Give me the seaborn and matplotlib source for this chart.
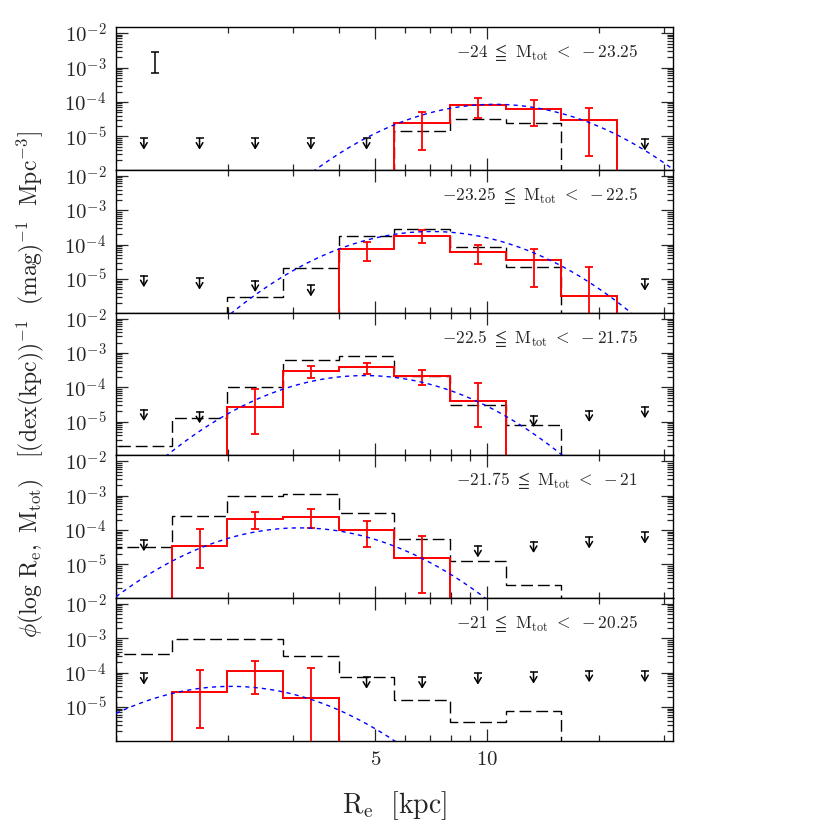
import numpy as np
import matplotlib
matplotlib.use("Agg")
import matplotlib.pyplot as plt
from matplotlib.ticker import FixedLocator, FuncFormatter, LogLocator, NullFormatter
import seaborn as sns

# ---------------------------------------------------------------
# data (phi values kept as log10)
# ---------------------------------------------------------------
# bins in log10(Re / kpc)
LOG_RE_EDGES = [0.0, 0.15, 0.30, 0.45, 0.60, 0.75, 0.90, 1.05, 1.20, 1.35, 1.50]

# one panel per magnitude bin
MAG_BRIGHT = [-24, -23.25, -22.5, -21.75, -21]
MAG_FAINT = [-23.25, -22.5, -21.75, -21, -20.25]

# red (solid) histogram : first bin index + values
RED_START = [5, 4, 2, 1, 1]
RED_LOGPHI = [
    [-4.60, -4.10, -4.20, -4.52],
    [-4.14, -3.75, -4.21, -4.45, -5.49],
    [-4.56, -3.52, -3.42, -3.66, -4.41],
    [-4.47, -3.67, -3.61, -4.00, -4.81],
    [-4.55, -3.96, -4.73],
]
# error bar ends (-7 = runs off the bottom of the panel)
RED_ERR_LO = [
    [-5.40, -4.48, -4.69, -5.57],
    [-4.48, -3.94, -4.56, -5.24, -7.0],
    [-5.35, -3.74, -3.60, -3.92, -5.17],
    [-5.12, -3.98, -3.95, -4.51, -5.82],
    [-5.60, -4.63, -7.0],
]
RED_ERR_HI = [
    [-4.28, -3.88, -3.95, -4.19],
    [-3.93, -3.59, -4.01, -4.13, -4.64],
    [-4.04, -3.39, -3.29, -3.49, -3.87],
    [-3.98, -3.47, -3.40, -3.75, -4.18],
    [-3.91, -3.66, -3.88],
]

# black (dashed) histogram
BLACK_START = [5, 2, 0, 0, 0]
BLACK_LOGPHI = [
    [-4.85, -4.49, -4.62],
    [-5.52, -4.67, -3.75, -3.56, -4.06, -4.64],
    [-5.72, -4.89, -3.99, -3.22, -3.10, -3.67, -4.51, -5.09],
    [-4.49, -3.59, -3.01, -2.96, -3.50, -4.27, -4.90, -5.60],
    [-3.47, -3.03, -3.03, -3.52, -4.14, -4.80, -5.43, -5.11],
]

# upper limits (bin index, log10 phi)
LIMIT_BINS = [
    [0, 1, 2, 3, 4, 9],
    [0, 1, 2, 3, 9],
    [0, 1, 7, 8, 9],
    [0, 6, 7, 8, 9],
    [0, 4, 5, 6, 7, 8, 9],
]
LIMIT_LOGPHI = [
    [-5.06, -5.06, -5.06, -5.06, -5.06, -5.08],
    [-4.91, -4.98, -5.05, -5.18, -5.01],
    [-4.65, -4.72, -4.83, -4.68, -4.57],
    [-4.29, -4.47, -4.34, -4.21, -4.07],
    [-4.02, -4.14, -4.14, -4.02, -3.99, -3.95, -3.95],
]

# gaussian-in-log fit (blue dashed): peak log10 phi, mean log10 Re, width
FIT_PEAK = [-4.07, -3.62, -3.66, -3.94, -4.40]
FIT_MEAN = [1.02, 0.85, 0.67, 0.495, 0.31]
FIT_SIGMA = 0.163

# typical error bar drawn in the top panel
TYP_ERR_RE = 1.27
TYP_ERR_LOG = [-3.16, -2.55]

YLIM_LOG = (-5.98, -1.83)

# ---------------------------------------------------------------
sns.set_style("ticks")
plt.rcParams.update({
    "font.family": ["DejaVu Serif"],
    "mathtext.fontset": "cm",
    "axes.linewidth": 1.0,
    "axes.edgecolor": "black",
})

edges = 10 ** np.array(LOG_RE_EDGES)
log_centers = (np.array(LOG_RE_EDGES[:-1]) + np.array(LOG_RE_EDGES[1:])) / 2
centers = 10 ** log_centers
re_grid = np.logspace(LOG_RE_EDGES[0], LOG_RE_EDGES[-1], 400)

fig, axes = plt.subplots(5, 1, figsize=(8.3, 8.3), dpi=100, sharex=True)
fig.subplots_adjust(left=0.1398, right=0.8105, top=0.9671, bottom=0.1076, hspace=0)

for i, ax in enumerate(axes):
    ax.set_xscale("log")
    ax.set_yscale("log")

    # black dashed histogram
    b0 = BLACK_START[i]
    bvals = 10 ** np.array(BLACK_LOGPHI[i])
    ax.stairs(bvals, edges[b0:b0 + len(bvals) + 1], baseline=1e-12,
              color="black", lw=1.0, linestyle=(0, (8.5, 3.6)), zorder=2)

    # red histogram + errors
    r0 = RED_START[i]
    rvals = 10 ** np.array(RED_LOGPHI[i])
    ax.stairs(rvals, edges[r0:r0 + len(rvals) + 1], baseline=1e-12,
              color="red", lw=1.4, zorder=3)
    lo = 10 ** np.array(RED_ERR_LO[i])
    hi = 10 ** np.array(RED_ERR_HI[i])
    ax.errorbar(centers[r0:r0 + len(rvals)], rvals, yerr=[rvals - lo, hi - rvals],
                fmt="none", ecolor="red", elinewidth=1.3, capsize=2.6, capthick=1.3,
                zorder=3)

    # fit curve
    logphi_fit = FIT_PEAK[i] - 0.5 * ((np.log10(re_grid) - FIT_MEAN[i]) / FIT_SIGMA) ** 2 * np.log10(np.e)
    sns.lineplot(x=re_grid, y=10 ** logphi_fit, ax=ax, color="blue", lw=1.0,
                 linestyle=(0, (3, 3)), zorder=4)

    # upper limits
    lx = centers[LIMIT_BINS[i]]
    ly = 10 ** np.array(LIMIT_LOGPHI[i])
    ax.scatter(lx, ly, marker="_", s=30, color="black", linewidths=1.1, zorder=5)
    for x, y in zip(lx, ly):
        ax.annotate("", xy=(x, y / 10 ** 0.33), xytext=(x, y),
                    arrowprops=dict(arrowstyle="->,head_length=0.5,head_width=0.3",
                                    color="black", lw=1.1, shrinkA=0, shrinkB=0,
                                    mutation_scale=8))

    ax.text(0.9377, 0.79,
            r"$%g\ \leqq\ \mathrm{M_{tot}}\ <\ %g$" % (MAG_BRIGHT[i], MAG_FAINT[i]),
            transform=ax.transAxes, ha="right", va="baseline", fontsize=12.5)

    ax.set_xlim(10 ** LOG_RE_EDGES[0], 10 ** LOG_RE_EDGES[-1])
    ax.set_ylim(10 ** YLIM_LOG[0], 10 ** YLIM_LOG[1])
    ax.yaxis.set_major_locator(FixedLocator([1e-5, 1e-4, 1e-3, 1e-2]))
    ax.yaxis.set_major_formatter(FuncFormatter(lambda v, p: r"$10^{%d}$" % round(np.log10(v))))
    ax.yaxis.set_minor_locator(LogLocator(base=10, subs=np.arange(2, 10), numticks=50))
    ax.yaxis.set_minor_formatter(NullFormatter())
    ax.tick_params(which="both", direction="in", top=True, right=True, width=0.9,
                   labelsize=15)
    ax.tick_params(which="major", length=8.6, pad=7)
    ax.tick_params(which="minor", length=4.3)
    ax.set_ylabel("")

axes[0].errorbar([TYP_ERR_RE], [10 ** np.mean(TYP_ERR_LOG)],
                 yerr=[[10 ** np.mean(TYP_ERR_LOG) - 10 ** TYP_ERR_LOG[0]],
                       [10 ** TYP_ERR_LOG[1] - 10 ** np.mean(TYP_ERR_LOG)]],
                 fmt="none", ecolor="black", elinewidth=1.1, capsize=2.6, capthick=1.1)

bottom = axes[-1]
bottom.xaxis.set_major_locator(FixedLocator([5, 10]))
bottom.xaxis.set_major_formatter(FuncFormatter(lambda v, p: r"$%d$" % v))
bottom.xaxis.set_minor_locator(FixedLocator([2, 3, 4, 6, 7, 8, 9, 20, 30]))
bottom.xaxis.set_minor_formatter(NullFormatter())
bottom.set_xlabel(r"$\mathrm{R_e}\ \ \mathrm{[kpc]}$", fontsize=20, labelpad=14)

fig.text(30 / 830, 0.537,
         r"$\phi(\mathrm{log\ R_e,\ M_{tot}})\quad[(\mathrm{dex(kpc)})^{-1}\ \ (\mathrm{mag})^{-1}\ \ \mathrm{Mpc}^{-3}]$",
         rotation=90, ha="center", va="center", fontsize=17)

fig.savefig("out.png", dpi=100)
